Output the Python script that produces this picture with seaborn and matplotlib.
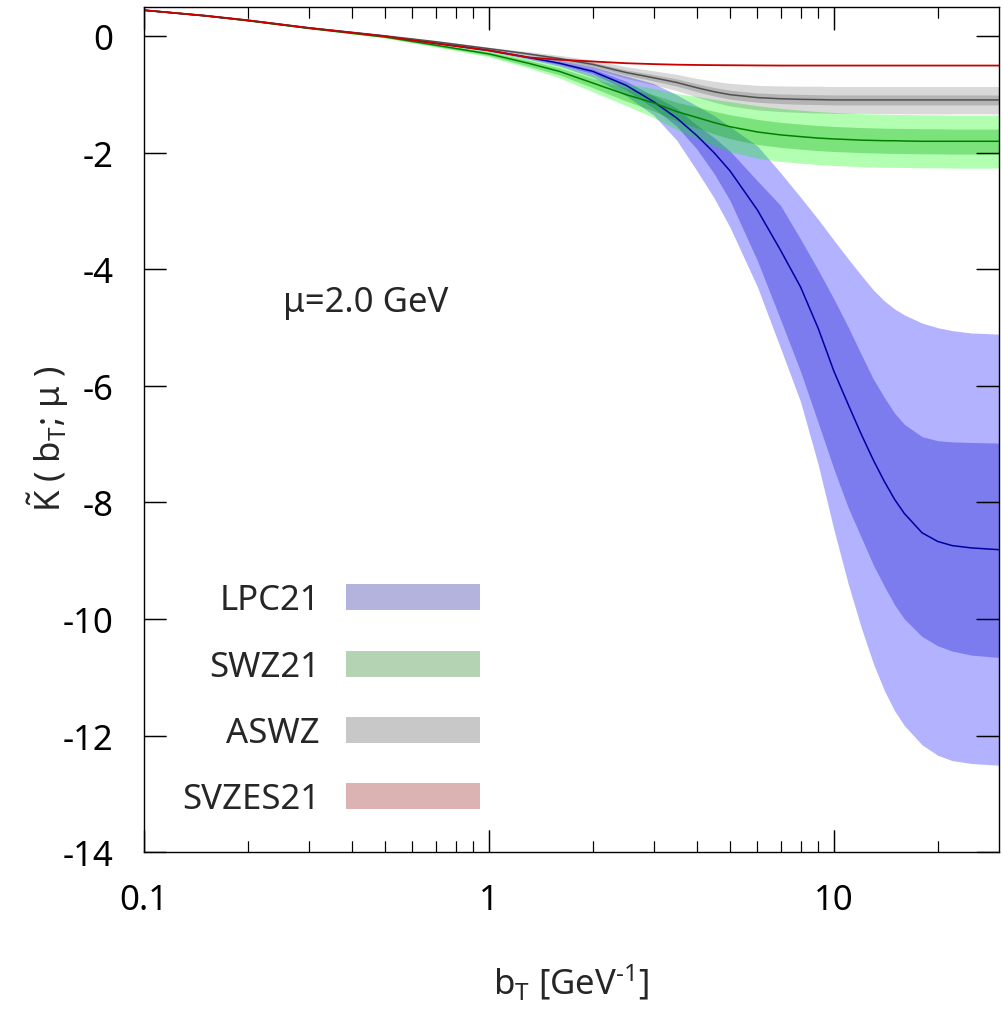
import matplotlib
matplotlib.use("Agg")
import matplotlib.pyplot as plt
import seaborn as sns
import pandas as pd
from matplotlib.patches import Patch
from matplotlib.ticker import FixedLocator, FixedFormatter

# ---------------- data ----------------
b_T = [0.1, 0.15, 0.2, 0.3, 0.5, 0.7, 1.0, 1.3, 1.6, 2.0, 2.5, 3.0, 3.5, 4.0, 4.5,
       5.0, 6.0, 7.0, 8.0, 9.0, 10, 11, 12, 13, 14, 15, 16, 18, 20, 22, 25, 30]

# LPC21 (blue)
lpc_c = [0.45, 0.355, 0.275, 0.145, 0.005, -0.115, -0.24, -0.36, -0.46, -0.60, -0.84,
         -1.12, -1.40, -1.70, -2.00, -2.31, -2.98, -3.67, -4.30, -5.01, -5.75, -6.32,
         -6.83, -7.27, -7.64, -7.95, -8.19, -8.52, -8.67, -8.74, -8.78, -8.81]
lpc_outer_hi = [0.455, 0.36, 0.28, 0.15, 0.01, -0.105, -0.22, -0.33, -0.41, -0.52, -0.68,
                -0.81, -1.00, -1.19, -1.36, -1.55, -1.88, -2.34, -2.76, -3.14, -3.50, -3.82,
                -4.10, -4.35, -4.54, -4.68, -4.78, -4.92, -5.00, -5.05, -5.09, -5.11]
lpc_inner_hi = [0.452, 0.357, 0.277, 0.147, 0.007, -0.11, -0.23, -0.345, -0.435, -0.56, -0.77,
                -1.02, -1.23, -1.52, -1.74, -1.97, -2.48, -2.90, -3.48, -4.01, -4.51, -4.99,
                -5.46, -5.88, -6.20, -6.47, -6.66, -6.87, -6.94, -6.96, -6.97, -6.98]
lpc_inner_lo = [0.448, 0.353, 0.273, 0.143, 0.003, -0.12, -0.25, -0.375, -0.485, -0.64, -0.92,
                -1.23, -1.54, -1.93, -2.36, -2.82, -3.85, -4.86, -5.75, -6.63, -7.43, -8.09,
                -8.60, -9.07, -9.44, -9.76, -10.00, -10.30, -10.46, -10.55, -10.62, -10.66]
lpc_outer_lo = [0.445, 0.35, 0.27, 0.14, 0.0, -0.125, -0.26, -0.39, -0.51, -0.70, -1.02,
                -1.35, -1.78, -2.30, -2.78, -3.28, -4.30, -5.35, -6.27, -7.35, -8.47, -9.40,
                -10.15, -10.76, -11.23, -11.58, -11.83, -12.16, -12.34, -12.43, -12.48, -12.51]

# SWZ21 (green)
swz_c = [0.45, 0.355, 0.27, 0.14, -0.01, -0.15, -0.30, -0.46, -0.60, -0.80, -1.00,
         -1.14, -1.29, -1.39, -1.48, -1.55, -1.64, -1.69, -1.72, -1.745, -1.76, -1.77,
         -1.78, -1.785, -1.79, -1.79, -1.795, -1.80, -1.80, -1.80, -1.80, -1.80]
swz_outer_hi = [0.455, 0.36, 0.277, 0.15, 0.01, -0.12, -0.25, -0.38, -0.49, -0.65, -0.81,
                -0.89, -0.98, -1.03, -1.08, -1.12, -1.19, -1.235, -1.265, -1.29, -1.305, -1.315,
                -1.325, -1.33, -1.335, -1.34, -1.34, -1.345, -1.345, -1.35, -1.35, -1.35]
swz_inner_hi = [0.453, 0.358, 0.274, 0.146, 0.0, -0.13, -0.27, -0.41, -0.54, -0.72, -0.89,
                -1.00, -1.13, -1.21, -1.285, -1.345, -1.425, -1.475, -1.505, -1.53, -1.545,
                -1.555, -1.565, -1.57, -1.575, -1.578, -1.58, -1.585, -1.585, -1.59, -1.59, -1.59]
swz_inner_lo = [0.447, 0.352, 0.266, 0.134, -0.02, -0.17, -0.33, -0.51, -0.66, -0.88, -1.11,
                -1.28, -1.45, -1.57, -1.675, -1.755, -1.855, -1.905, -1.935, -1.96, -1.975,
                -1.985, -1.995, -2.0, -2.005, -2.008, -2.01, -2.015, -2.015, -2.02, -2.02, -2.02]
swz_outer_lo = [0.445, 0.35, 0.263, 0.13, -0.03, -0.18, -0.35, -0.54, -0.71, -0.95, -1.19,
                -1.39, -1.60, -1.75, -1.88, -1.98, -2.09, -2.145, -2.175, -2.20, -2.215,
                -2.225, -2.235, -2.24, -2.245, -2.248, -2.25, -2.255, -2.255, -2.26, -2.26, -2.26]

# ASWZ (gray)
aswz_c = [0.45, 0.36, 0.28, 0.15, 0.01, -0.09, -0.21, -0.30, -0.38, -0.48, -0.62,
          -0.71, -0.79, -0.88, -0.95, -1.00, -1.05, -1.07, -1.08, -1.085, -1.09, -1.09,
          -1.09, -1.09, -1.09, -1.09, -1.09, -1.09, -1.09, -1.09, -1.09, -1.09]
aswz_outer_hi = [0.455, 0.365, 0.285, 0.157, 0.02, -0.075, -0.185, -0.26, -0.325, -0.405, -0.52,
                 -0.59, -0.65, -0.72, -0.77, -0.805, -0.84, -0.85, -0.855, -0.855, -0.86, -0.86,
                 -0.86, -0.86, -0.86, -0.86, -0.86, -0.86, -0.86, -0.86, -0.86, -0.86]
aswz_inner_hi = [0.452, 0.362, 0.283, 0.154, 0.015, -0.082, -0.198, -0.28, -0.352, -0.445, -0.575,
                 -0.655, -0.728, -0.812, -0.877, -0.923, -0.97, -0.988, -0.995, -1.0, -1.005,
                 -1.005, -1.005, -1.005, -1.005, -1.005, -1.005, -1.005, -1.005, -1.005, -1.005, -1.005]
aswz_inner_lo = [0.448, 0.358, 0.277, 0.146, 0.005, -0.098, -0.222, -0.32, -0.408, -0.515, -0.665,
                 -0.765, -0.852, -0.948, -1.023, -1.077, -1.13, -1.152, -1.165, -1.17, -1.175,
                 -1.175, -1.175, -1.175, -1.175, -1.175, -1.175, -1.175, -1.175, -1.175, -1.175, -1.175]
aswz_outer_lo = [0.445, 0.355, 0.275, 0.143, 0.0, -0.105, -0.235, -0.34, -0.435, -0.555, -0.72,
                 -0.83, -0.93, -1.04, -1.13, -1.195, -1.26, -1.29, -1.305, -1.315, -1.32,
                 -1.32, -1.32, -1.322, -1.325, -1.327, -1.33, -1.33, -1.33, -1.33, -1.33, -1.33]

# SVZES21 (red)
svzes_c = [0.45, 0.355, 0.275, 0.145, 0.0, -0.12, -0.24, -0.36, -0.40, -0.43, -0.46,
           -0.475, -0.485, -0.49, -0.493, -0.495, -0.498, -0.50, -0.50, -0.50, -0.50, -0.50,
           -0.50, -0.50, -0.50, -0.50, -0.50, -0.50, -0.50, -0.50, -0.50, -0.50]

legend_labels = ["LPC21", "SWZ21", "ASWZ", "SVZES21"]
legend_colors = ["#b3b3de", "#b3d3b3", "#c8c8c8", "#dbb3b3"]
y_ticks = [-14, -12, -10, -8, -6, -4, -2, 0]
x_ticks = [0.1, 1, 10]
x_tick_labels = ["0.1", "1", "10"]
x_minor_ticks = [0.2, 0.3, 0.4, 0.5, 0.6, 0.7, 0.8, 0.9, 2, 3, 4, 5, 6, 7, 8, 9, 20]

# ---------------- style ----------------
FS = 25
MAJ, MINL = 16, 8          # tick lengths in points
sns.set_theme(style="ticks")
plt.rcParams["font.family"] = ["Noto Sans", "DejaVu Sans"]
plt.rcParams.update({
    "mathtext.fontset": "custom",
    "mathtext.rm": "Noto Sans",
    "mathtext.it": "Noto Sans:italic",
    "mathtext.bf": "Noto Sans:bold",
    "axes.unicode_minus": False,
    "axes.linewidth": 1.0,
    "axes.edgecolor": "black",
    "xtick.direction": "in", "ytick.direction": "in",
    "xtick.top": True, "ytick.right": True,
    "xtick.major.size": MAJ, "ytick.major.size": MAJ,
    "xtick.minor.size": MINL, "ytick.minor.size": MINL,
    "xtick.major.width": 0.9, "ytick.major.width": 0.9,
    "xtick.minor.width": 0.8, "ytick.minor.width": 0.8,
    "xtick.color": "black", "ytick.color": "black",
    "xtick.major.pad": 22, "ytick.major.pad": 22,
    "xtick.labelsize": FS, "ytick.labelsize": FS,
})

fig = plt.figure(figsize=(10.04, 10.12), dpi=100)
ax = fig.add_axes([0.1434, 0.1571, 0.8512, 0.8347])
ax.set_xscale("log")

series = [
    (lpc_c, lpc_outer_lo, lpc_outer_hi, lpc_inner_lo, lpc_inner_hi,
     (0, 0, 1), (0, 0, 0.78), 0.3, 0.3, "#0000a0"),
    (swz_c, swz_outer_lo, swz_outer_hi, swz_inner_lo, swz_inner_hi,
     (0, 1, 0), (0, 0.63, 0), 0.3, 0.3, "#008000"),
    (aswz_c, aswz_outer_lo, aswz_outer_hi, aswz_inner_lo, aswz_inner_hi,
     (0, 0, 0), (0, 0, 0), 0.15, 0.17, "#505050"),
]
for c, olo, ohi, ilo, ihi, oc, ic, oa, ia, lc in series:
    ax.fill_between(b_T, olo, ohi, color=oc, alpha=oa, lw=0)
    ax.fill_between(b_T, ilo, ihi, color=ic, alpha=ia, lw=0)
    sns.lineplot(data=pd.DataFrame({"b": b_T, "K": c}), x="b", y="K", ax=ax,
                 color=lc, lw=1.1)

sns.lineplot(data=pd.DataFrame({"b": b_T, "K": svzes_c}), x="b", y="K", ax=ax,
             color="#c80000", lw=1.3)

XMIN, XMAX, YMIN, YMAX = 0.1, 30, -14, 0.5
ax.set_xlim(XMIN, XMAX)
ax.set_ylim(YMIN, YMAX)
ax.xaxis.set_major_locator(FixedLocator(x_ticks))
ax.xaxis.set_major_formatter(FixedFormatter(x_tick_labels))
ax.xaxis.set_minor_locator(FixedLocator(x_minor_ticks))
ax.yaxis.set_major_locator(FixedLocator(y_ticks))
ax.yaxis.set_major_formatter(FixedFormatter([str(t) for t in y_ticks]))
ax.yaxis.set_minor_locator(FixedLocator([]))

ax.set_xlabel(r"b$_{\mathrm{T}}$ [GeV$^{\text{-1}}$]", fontsize=FS)
ax.set_ylabel(r"$\tilde{\mathrm{K}}$ ( b$_{\mathrm{T}}$; μ )", fontsize=FS)
ax.yaxis.set_label_coords(-0.085, 0.49)
ax.xaxis.set_label_coords(0.5, -0.130)

ax.text(0.1627, 0.651, "μ=2.0 GeV", transform=ax.transAxes, fontsize=FS,
        ha="left", va="center")

handles = [Patch(facecolor=col, edgecolor="none") for col in legend_colors]
ax.legend(handles, legend_labels, loc="upper right", bbox_to_anchor=(0.3932, 0.3179),
          frameon=False, markerfirst=False, fontsize=FS, handlelength=3.86,
          handleheight=0.78, handletextpad=0.75, labelspacing=0.93,
          borderpad=0, borderaxespad=0)

# ---- inward tick marks as data-space segments (lengths derived from the transforms) ----
pix = fig.dpi / 72.0
inv = ax.transData.inverted()
x0p, y0p = ax.transData.transform((XMIN, YMIN))
x1p, y1p = ax.transData.transform((XMAX, YMAX))
xl_in = inv.transform((x0p + MAJ * pix, y0p))[0]
xr_in = inv.transform((x1p - MAJ * pix, y0p))[0]
yb_maj = inv.transform((x0p, y0p + MAJ * pix))[1]
yt_maj = inv.transform((x0p, y1p - MAJ * pix))[1]
yb_min = inv.transform((x0p, y0p + MINL * pix))[1]
yt_min = inv.transform((x0p, y1p - MINL * pix))[1]
tk = dict(colors="black", zorder=6, capstyle="butt")
ax.hlines(y_ticks, XMIN, xl_in, linewidths=0.9, **tk)
ax.hlines(y_ticks, xr_in, XMAX, linewidths=0.9, **tk)
ax.vlines(x_ticks, YMIN, yb_maj, linewidths=0.9, **tk)
ax.vlines(x_ticks, yt_maj, YMAX, linewidths=0.9, **tk)
ax.vlines(x_minor_ticks, YMIN, yb_min, linewidths=0.8, **tk)
ax.vlines(x_minor_ticks, yt_min, YMAX, linewidths=0.8, **tk)
ax.set_xlim(XMIN, XMAX)
ax.set_ylim(YMIN, YMAX)

fig.savefig("out.png", dpi=100)
